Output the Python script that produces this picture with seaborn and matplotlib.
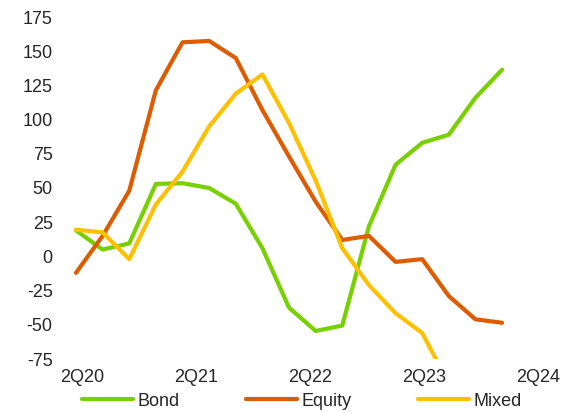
import numpy as np
import pandas as pd
import seaborn as sns
import matplotlib.pyplot as plt

# =====================================================
# data
# =====================================================

quarters = [
    "2Q20", "3Q20", "4Q20", "1Q21", "2Q21", "3Q21", "4Q21", "1Q22",
    "2Q22", "3Q22", "4Q22", "1Q23", "2Q23", "3Q23", "4Q23", "1Q24", "2Q24"
]

bond = [19, 5, 9.5, 53, 53.5, 50, 38.5, 6, -37.5, -54.5, -50.5, 22,
        67, 83, 89, 116, 136.5]
equity = [-12, 15, 48, 121.5, 156.5, 157.5, 145, 107, 73, 40, 12, 15,
          -4, -2, -29, -46, -48.5]
mixed = [19.5, 17.5, -2, 38, 62, 95, 119, 133, 97.5, 55.5, 6, -21,
         -41.5, -56, -93, np.nan, np.nan]

series_names = ["Bond", "Equity", "Mixed"]
colors = ["#78D000", "#DD5C00", "#FFC000"]

tick_labels = ["2Q20", "2Q21", "2Q22", "2Q23", "2Q24"]
y_ticks = [-75, -50, -25, 0, 25, 50, 75, 100, 125, 150, 175]

df = pd.DataFrame({
    "idx": np.tile(np.arange(len(quarters)), 3),
    "value": bond + equity + mixed,
    "series": np.repeat(series_names, len(quarters)),
})

# =====================================================
# plot
# =====================================================

sns.set_style("white")
plt.rcParams["font.family"] = ["Liberation Sans", "DejaVu Sans"]

fig = plt.figure(figsize=(5.79, 4.13), dpi=100)
ax = fig.add_axes([68 / 579, 1 - 359 / 413, (550 - 68) / 579, (359 - 17) / 413])

sns.lineplot(
    data=df,
    x="idx",
    y="value",
    hue="series",
    palette=colors,
    linewidth=3,
    ax=ax,
    legend=False
)

ax.set_xlim(-0.3, 17.8)
ax.set_ylim(-75, 175)
ax.set_yticks(y_ticks)
ax.set_yticklabels([str(v) for v in y_ticks])
ax.set_xticks(np.arange(len(tick_labels)) * 4.28 + 0.23)
ax.set_xticklabels(tick_labels)
ax.tick_params(axis="y", length=0, pad=11, labelsize=13)
ax.tick_params(axis="x", length=0, pad=7, labelsize=13)
ax.set_xlabel("")
ax.set_ylabel("")
sns.despine(ax=ax, left=True, bottom=True)

handles = [plt.Line2D([], [], color=c, linewidth=3) for c in colors]
fig.legend(
    handles,
    series_names,
    loc="center",
    bbox_to_anchor=(302 / 579, 1 - 401 / 413),
    ncol=3,
    frameon=False,
    fontsize=13,
    handlelength=2.8,
    handletextpad=0.25,
    columnspacing=3.7
)

fig.savefig("out.png", dpi=100)
